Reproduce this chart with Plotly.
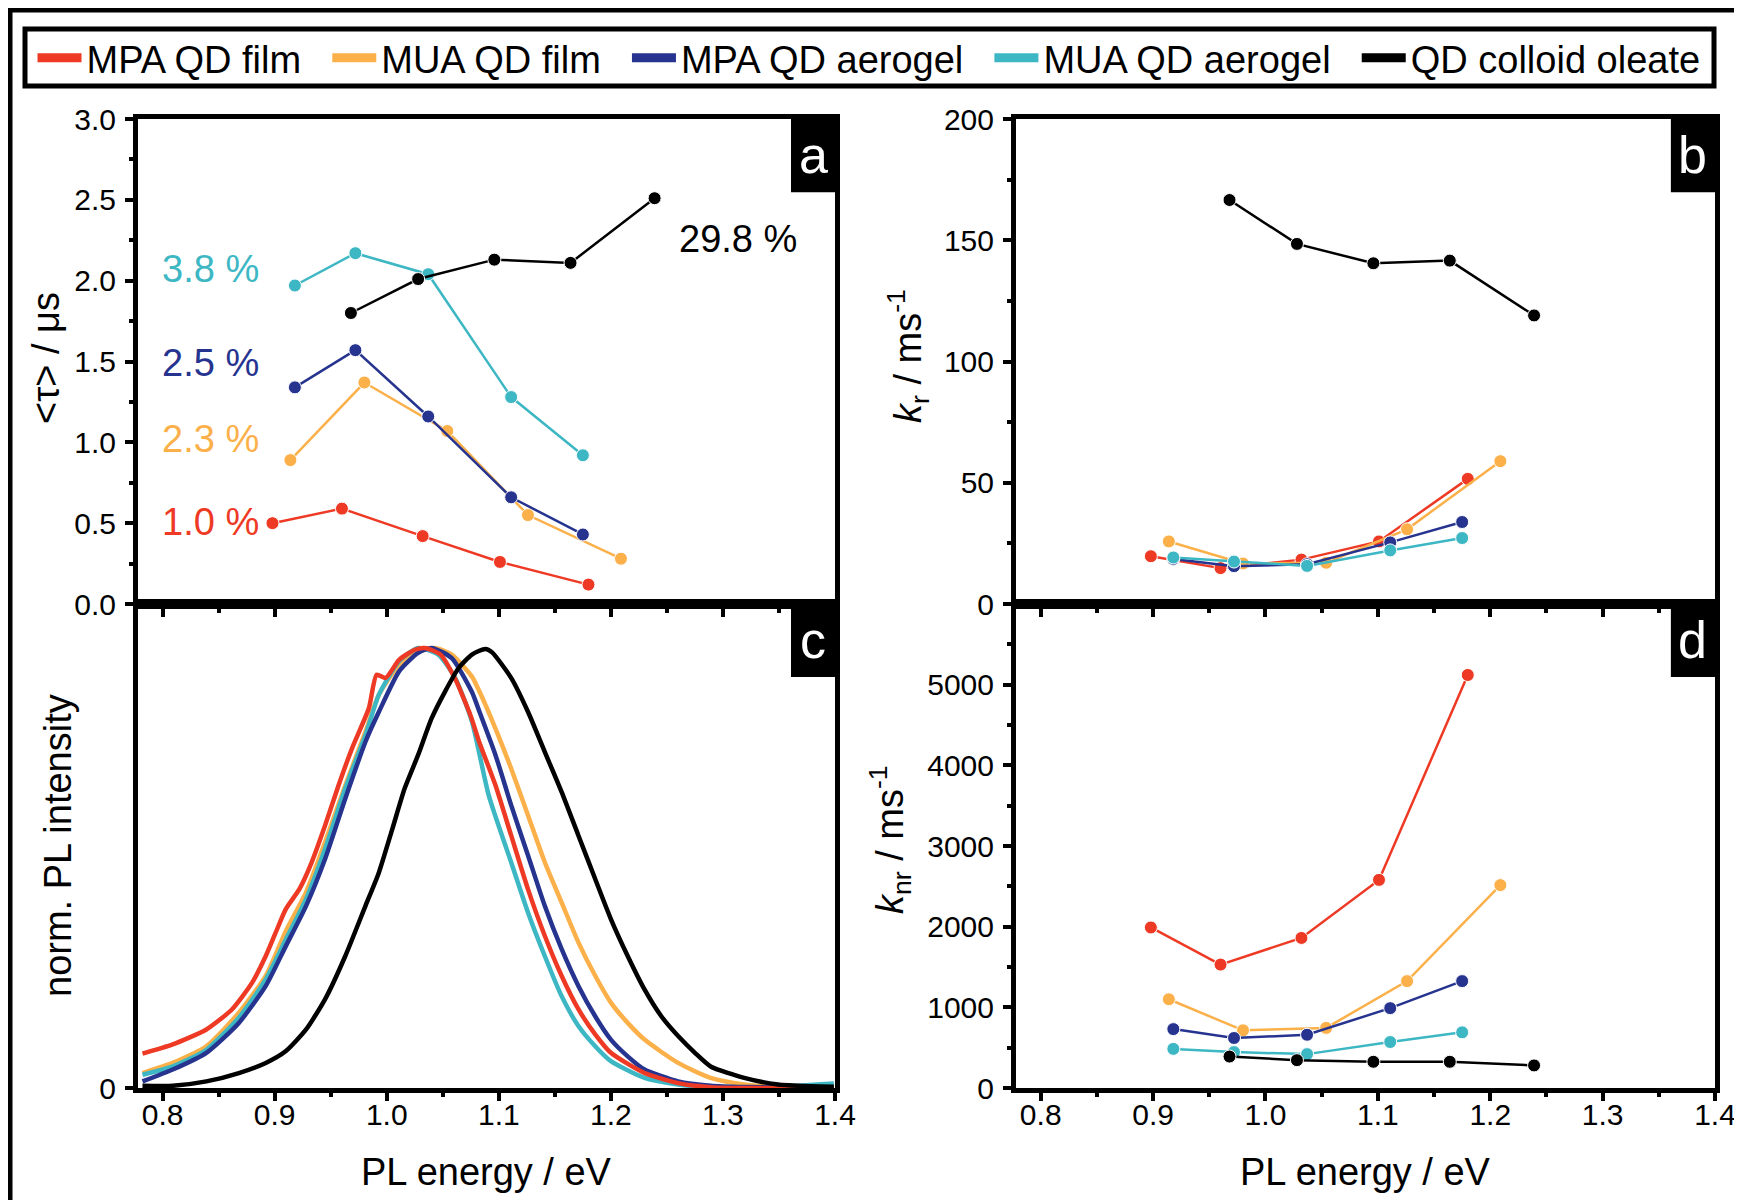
import plotly.graph_objects as go

FONT = "Liberation Sans, Arial, sans-serif"
W, H = 1742, 1200

names = ["MPA QD film", "MUA QD film", "MPA QD aerogel", "MUA QD aerogel", "QD colloid oleate"]
colors = ["#EE3A24", "#FBB04A", "#26348F", "#3DB7C4", "#000000"]

# PL peak energies of the samples (eV), shared by panels a, b, d
energy_mpa_film = [0.898, 0.960, 1.032, 1.101, 1.180]
energy_mua_film = [0.914, 0.980, 1.054, 1.126, 1.209]
energy_mpa_aero = [0.918, 0.972, 1.037, 1.111, 1.175]
energy_mua_aero = [0.918, 0.972, 1.037, 1.111, 1.175]
energy_colloid = [0.968, 1.028, 1.096, 1.164, 1.239]

# panel a: mean lifetime / us
tau_mpa_film = [0.50, 0.59, 0.42, 0.26, 0.12]
tau_mua_film = [0.89, 1.37, 1.07, 0.55, 0.28]
tau_mpa_aero = [1.34, 1.57, 1.16, 0.66, 0.43]
tau_mua_aero = [1.97, 2.17, 2.04, 1.28, 0.92]
tau_colloid = [1.80, 2.01, 2.13, 2.11, 2.51]
plqy_labels = ["1.0 %", "2.3 %", "2.5 %", "3.8 %", "29.8 %"]
plqy_label_y = [0.51, 1.02, 1.49, 2.07, 2.26]
plqy_label_x = [0.843, 0.843, 0.843, 0.843, 1.313]

# panel b: radiative rate / ms-1
kr_mpa_film = [19.7, 14.8, 18.3, 25.8, 51.6]
kr_mua_film = [25.8, 16.7, 17.0, 30.8, 58.9]
kr_mpa_aero = [18.6, 15.6, 16.4, 25.4, 33.8]
kr_mua_aero = [19.2, 17.5, 15.7, 22.1, 27.2]
kr_colloid = [166.6, 148.5, 140.5, 141.6, 119.0]

# panel d: non-radiative rate / ms-1
knr_mpa_film = [1990, 1530, 1860, 2580, 5120]
knr_mua_film = [1100, 715, 745, 1325, 2515]
knr_mpa_aero = [730, 620, 660, 990, 1325]
knr_mua_aero = [485, 445, 420, 570, 690]
knr_colloid = [390, 345, 325, 325, 280]

# panel c: normalised PL spectra
spec_x_mpa_film = [0.782, 0.809, 0.839, 0.862, 0.880, 0.892, 0.901, 0.910, 0.922, 0.933, 0.945, 0.957,
                   0.969, 0.984, 0.991, 0.999, 1.011, 1.025, 1.034, 1.048, 1.061, 1.075, 1.082, 1.097,
                   1.111, 1.126, 1.141, 1.156, 1.171, 1.186, 1.200, 1.230, 1.260, 1.289, 1.319, 1.360, 1.399]
spec_y_mpa_film = [0.078, 0.099, 0.133, 0.179, 0.240, 0.300, 0.354, 0.407, 0.452, 0.513, 0.597, 0.688,
                   0.772, 0.863, 0.939, 0.932, 0.973, 0.996, 1.000, 0.985, 0.930, 0.845, 0.790, 0.688,
                   0.574, 0.452, 0.346, 0.255, 0.179, 0.122, 0.080, 0.034, 0.011, 0.002, 0.0, 0.0, 0.0]
spec_x_mua_film = [0.782, 0.809, 0.839, 0.868, 0.892, 0.910, 0.928, 0.945, 0.963, 0.981, 0.993, 1.011,
                   1.028, 1.043, 1.058, 1.076, 1.082, 1.097, 1.111, 1.126, 1.141, 1.156, 1.171, 1.186,
                   1.200, 1.215, 1.230, 1.260, 1.289, 1.319, 1.349, 1.399]
spec_y_mua_film = [0.034, 0.057, 0.095, 0.171, 0.255, 0.357, 0.445, 0.559, 0.688, 0.810, 0.894, 0.962,
                   0.992, 1.000, 0.985, 0.935, 0.905, 0.817, 0.726, 0.620, 0.513, 0.422, 0.331, 0.255,
                   0.194, 0.148, 0.110, 0.057, 0.023, 0.008, 0.002, 0.0]
spec_x_mpa_aero = [0.782, 0.809, 0.839, 0.868, 0.892, 0.910, 0.928, 0.945, 0.963, 0.981, 0.993, 1.011,
                   1.028, 1.040, 1.058, 1.076, 1.082, 1.097, 1.111, 1.126, 1.141, 1.156, 1.171, 1.186,
                   1.200, 1.215, 1.230, 1.260, 1.289, 1.319, 1.399]
spec_y_mpa_aero = [0.015, 0.042, 0.080, 0.148, 0.232, 0.323, 0.414, 0.521, 0.658, 0.787, 0.855, 0.947,
                   0.989, 1.000, 0.977, 0.900, 0.860, 0.757, 0.643, 0.529, 0.414, 0.316, 0.232, 0.163,
                   0.110, 0.072, 0.042, 0.015, 0.005, 0.002, 0.0]
spec_x_mua_aero = [0.782, 0.809, 0.839, 0.868, 0.892, 0.910, 0.928, 0.945, 0.963, 0.981, 0.993, 1.011,
                   1.028, 1.046, 1.061, 1.076, 1.091, 1.111, 1.126, 1.141, 1.156, 1.171, 1.186, 1.200,
                   1.230, 1.260, 1.289, 1.330, 1.399]
spec_y_mua_aero = [0.030, 0.049, 0.087, 0.160, 0.247, 0.338, 0.430, 0.544, 0.681, 0.802, 0.894, 0.970,
                   1.000, 0.985, 0.932, 0.833, 0.665, 0.513, 0.399, 0.300, 0.209, 0.141, 0.095, 0.061,
                   0.023, 0.008, 0.002, 0.0, 0.010]
spec_x_colloid = [0.782, 0.809, 0.839, 0.868, 0.892, 0.910, 0.928, 0.945, 0.963, 0.981, 0.993, 1.005,
                  1.016, 1.028, 1.040, 1.052, 1.064, 1.076, 1.088, 1.094, 1.111, 1.126, 1.141, 1.156,
                  1.171, 1.186, 1.200, 1.215, 1.230, 1.245, 1.260, 1.275, 1.289, 1.319, 1.349, 1.379, 1.399]
spec_y_colloid = [0.005, 0.005, 0.015, 0.034, 0.057, 0.084, 0.133, 0.202, 0.300, 0.414, 0.490, 0.589,
                  0.681, 0.757, 0.840, 0.901, 0.954, 0.985, 0.998, 0.990, 0.932, 0.855, 0.764, 0.673,
                  0.574, 0.475, 0.384, 0.300, 0.224, 0.163, 0.118, 0.080, 0.049, 0.023, 0.008, 0.004, 0.003]

energies = [energy_mpa_film, energy_mua_film, energy_mpa_aero, energy_mua_aero, energy_colloid]
taus = [tau_mpa_film, tau_mua_film, tau_mpa_aero, tau_mua_aero, tau_colloid]
krs = [kr_mpa_film, kr_mua_film, kr_mpa_aero, kr_mua_aero, kr_colloid]
knrs = [knr_mpa_film, knr_mua_film, knr_mpa_aero, knr_mua_aero, knr_colloid]
spec_x = [spec_x_mpa_film, spec_x_mua_film, spec_x_mpa_aero, spec_x_mua_aero, spec_x_colloid]
spec_y = [spec_y_mpa_film, spec_y_mua_film, spec_y_mpa_aero, spec_y_mua_aero, spec_y_colloid]

fig = go.Figure()

# legend-only entries (trailing no-break spaces widen the gap between entries)
for k, (name, col) in enumerate(zip(names, colors)):
    label = name if k == len(names) - 1 else name + "\u00a0\u00a0"
    fig.add_trace(go.Scatter(x=[None], y=[None], mode="lines", name=label,
                             line=dict(color=col, width=9), xaxis="x", yaxis="y"))

for i in range(5):
    style = dict(mode="lines+markers", showlegend=False, hoverinfo="skip",
                 line=dict(color=colors[i], width=2.5),
                 marker=dict(size=13, color=colors[i], line=dict(color="white", width=1)))
    fig.add_trace(go.Scatter(x=energies[i], y=taus[i], xaxis="x", yaxis="y", **style))
    fig.add_trace(go.Scatter(x=energies[i], y=krs[i], xaxis="x2", yaxis="y2", **style))
    fig.add_trace(go.Scatter(x=energies[i], y=knrs[i], xaxis="x4", yaxis="y4", **style))

for i in [1, 3, 2, 0, 4]:
    fig.add_trace(go.Scatter(x=spec_x[i], y=spec_y[i], mode="lines", showlegend=False,
                             line=dict(color=colors[i], width=4.5, shape="spline", smoothing=0.6),
                             xaxis="x3", yaxis="y3", hoverinfo="skip"))

left = [130 / W, 827 / W]
right = [1008 / W, 1707 / W]
top = [1 - 596 / H, 1 - 111 / H]
bottom = [1 - 1080 / H, 1 - 596 / H]

tick_font = dict(family=FONT, size=30, color="black")
minor_x = dict(dtick=0.05, ticklen=4, tickwidth=3.5, ticks="outside", tickcolor="black")


def xax(domain, anchor, labels):
    return dict(domain=domain, anchor=anchor, range=[0.778, 1.4], showgrid=False, zeroline=False,
                showline=True, linecolor="black", linewidth=5, mirror=True,
                ticks="outside", ticklen=8, tickwidth=4, tickcolor="black",
                tickvals=[0.8, 0.9, 1.0, 1.1, 1.2, 1.3, 1.4], tickformat=".1f",
                showticklabels=labels, tickfont=tick_font, minor=minor_x, automargin=False,
                ticklabelstandoff=-12)


def yax(domain, anchor, rng, tickvals, fmt, minor_dtick):
    d = dict(domain=domain, anchor=anchor, range=rng, showgrid=False, zeroline=False,
             showline=True, linecolor="black", linewidth=5, mirror=True,
             ticks="outside", ticklen=8, tickwidth=4, tickcolor="black",
             tickvals=tickvals, tickformat=fmt, tickfont=tick_font, automargin=False,
             ticklabelstandoff=3)
    if minor_dtick:
        d["minor"] = dict(dtick=minor_dtick, ticklen=4, tickwidth=3.5, ticks="outside", tickcolor="black")
    return d


fig.update_layout(
    width=W, height=H, margin=dict(l=0, r=0, t=0, b=0),
    paper_bgcolor="white", plot_bgcolor="white",
    font=dict(family=FONT, color="black"),
    xaxis=xax(left, "y", False),
    yaxis=yax(top, "x", [0, 3.0], [0, 0.5, 1.0, 1.5, 2.0, 2.5, 3.0], ".1f", 0.25),
    xaxis2=xax(right, "y2", False),
    yaxis2=yax(top, "x2", [0, 200], [0, 50, 100, 150, 200], "d", 25),
    xaxis3=xax(left, "y3", True),
    yaxis3=yax(bottom, "x3", [0, 1.1], [0], "d", None),
    xaxis4=xax(right, "y4", True),
    yaxis4=yax(bottom, "x4", [0, 6000], [0, 1000, 2000, 3000, 4000, 5000], "d", 500),
    legend=dict(orientation="h", x=(16 + 1706) / 2 / W, xanchor="center",
                y=1 - 50 / H, yanchor="middle", font=dict(family=FONT, size=38, color="black"),
                bgcolor="rgba(0,0,0,0)", itemwidth=44),
    showlegend=True,
)

shapes = [
    dict(type="rect", xref="paper", yref="paper", x0=0, x1=1, y0=0, y1=1,
         line=dict(color="black", width=9)),
    dict(type="rect", xref="paper", yref="paper", x0=17 / W, x1=1706 / W,
         y0=1 - 78 / H, y1=1 - 21 / H, line=dict(color="black", width=5)),
]
annotations = []
for xa, ya, letter in [("x", "y", "a"), ("x2", "y2", "b"), ("x3", "y3", "c"), ("x4", "y4", "d")]:
    shapes.append(dict(type="rect", xref=xa + " domain", yref=ya + " domain",
                       x0=1 - 44 / 697, x1=1, y0=1 - 73 / 484, y1=1,
                       fillcolor="black", line=dict(width=0)))
    annotations.append(dict(text=letter, xref=xa + " domain", yref=ya + " domain",
                            x=1 - 22 / 697, y=1 - 36 / 484, xanchor="center", yanchor="middle",
                            showarrow=False, font=dict(family=FONT, size=52, color="white")))

for txt, lx, ly, col in zip(plqy_labels, plqy_label_x, plqy_label_y, colors):
    annotations.append(dict(text=txt, x=lx, y=ly, xref="x", yref="y", showarrow=False,
                            xanchor="center", yanchor="middle",
                            font=dict(family=FONT, size=38, color=col)))

title_font = dict(family=FONT, size=38, color="black")
titles = [
    ("&lt;τ&gt; / μs", 38, 350, -90),
    ("norm. PL intensity", 50, 838, -90),
    ("<i>k</i><sub>r</sub> / ms<sup>-1</sup>", 900, 348, -90),
    ("<i>k</i><sub>nr</sub> / ms<sup>-1</sup>", 882, 832, -90),
    ("PL energy / eV", 478, 1164, 0),
    ("PL energy / eV", 1357, 1164, 0),
]
for txt, px, py, ang in titles:
    annotations.append(dict(text=txt, x=px / W, y=1 - py / H, xref="paper", yref="paper",
                            xanchor="center", yanchor="middle", textangle=ang,
                            showarrow=False, font=title_font))

fig.update_layout(shapes=shapes, annotations=annotations)
fig.write_html("out.html")
